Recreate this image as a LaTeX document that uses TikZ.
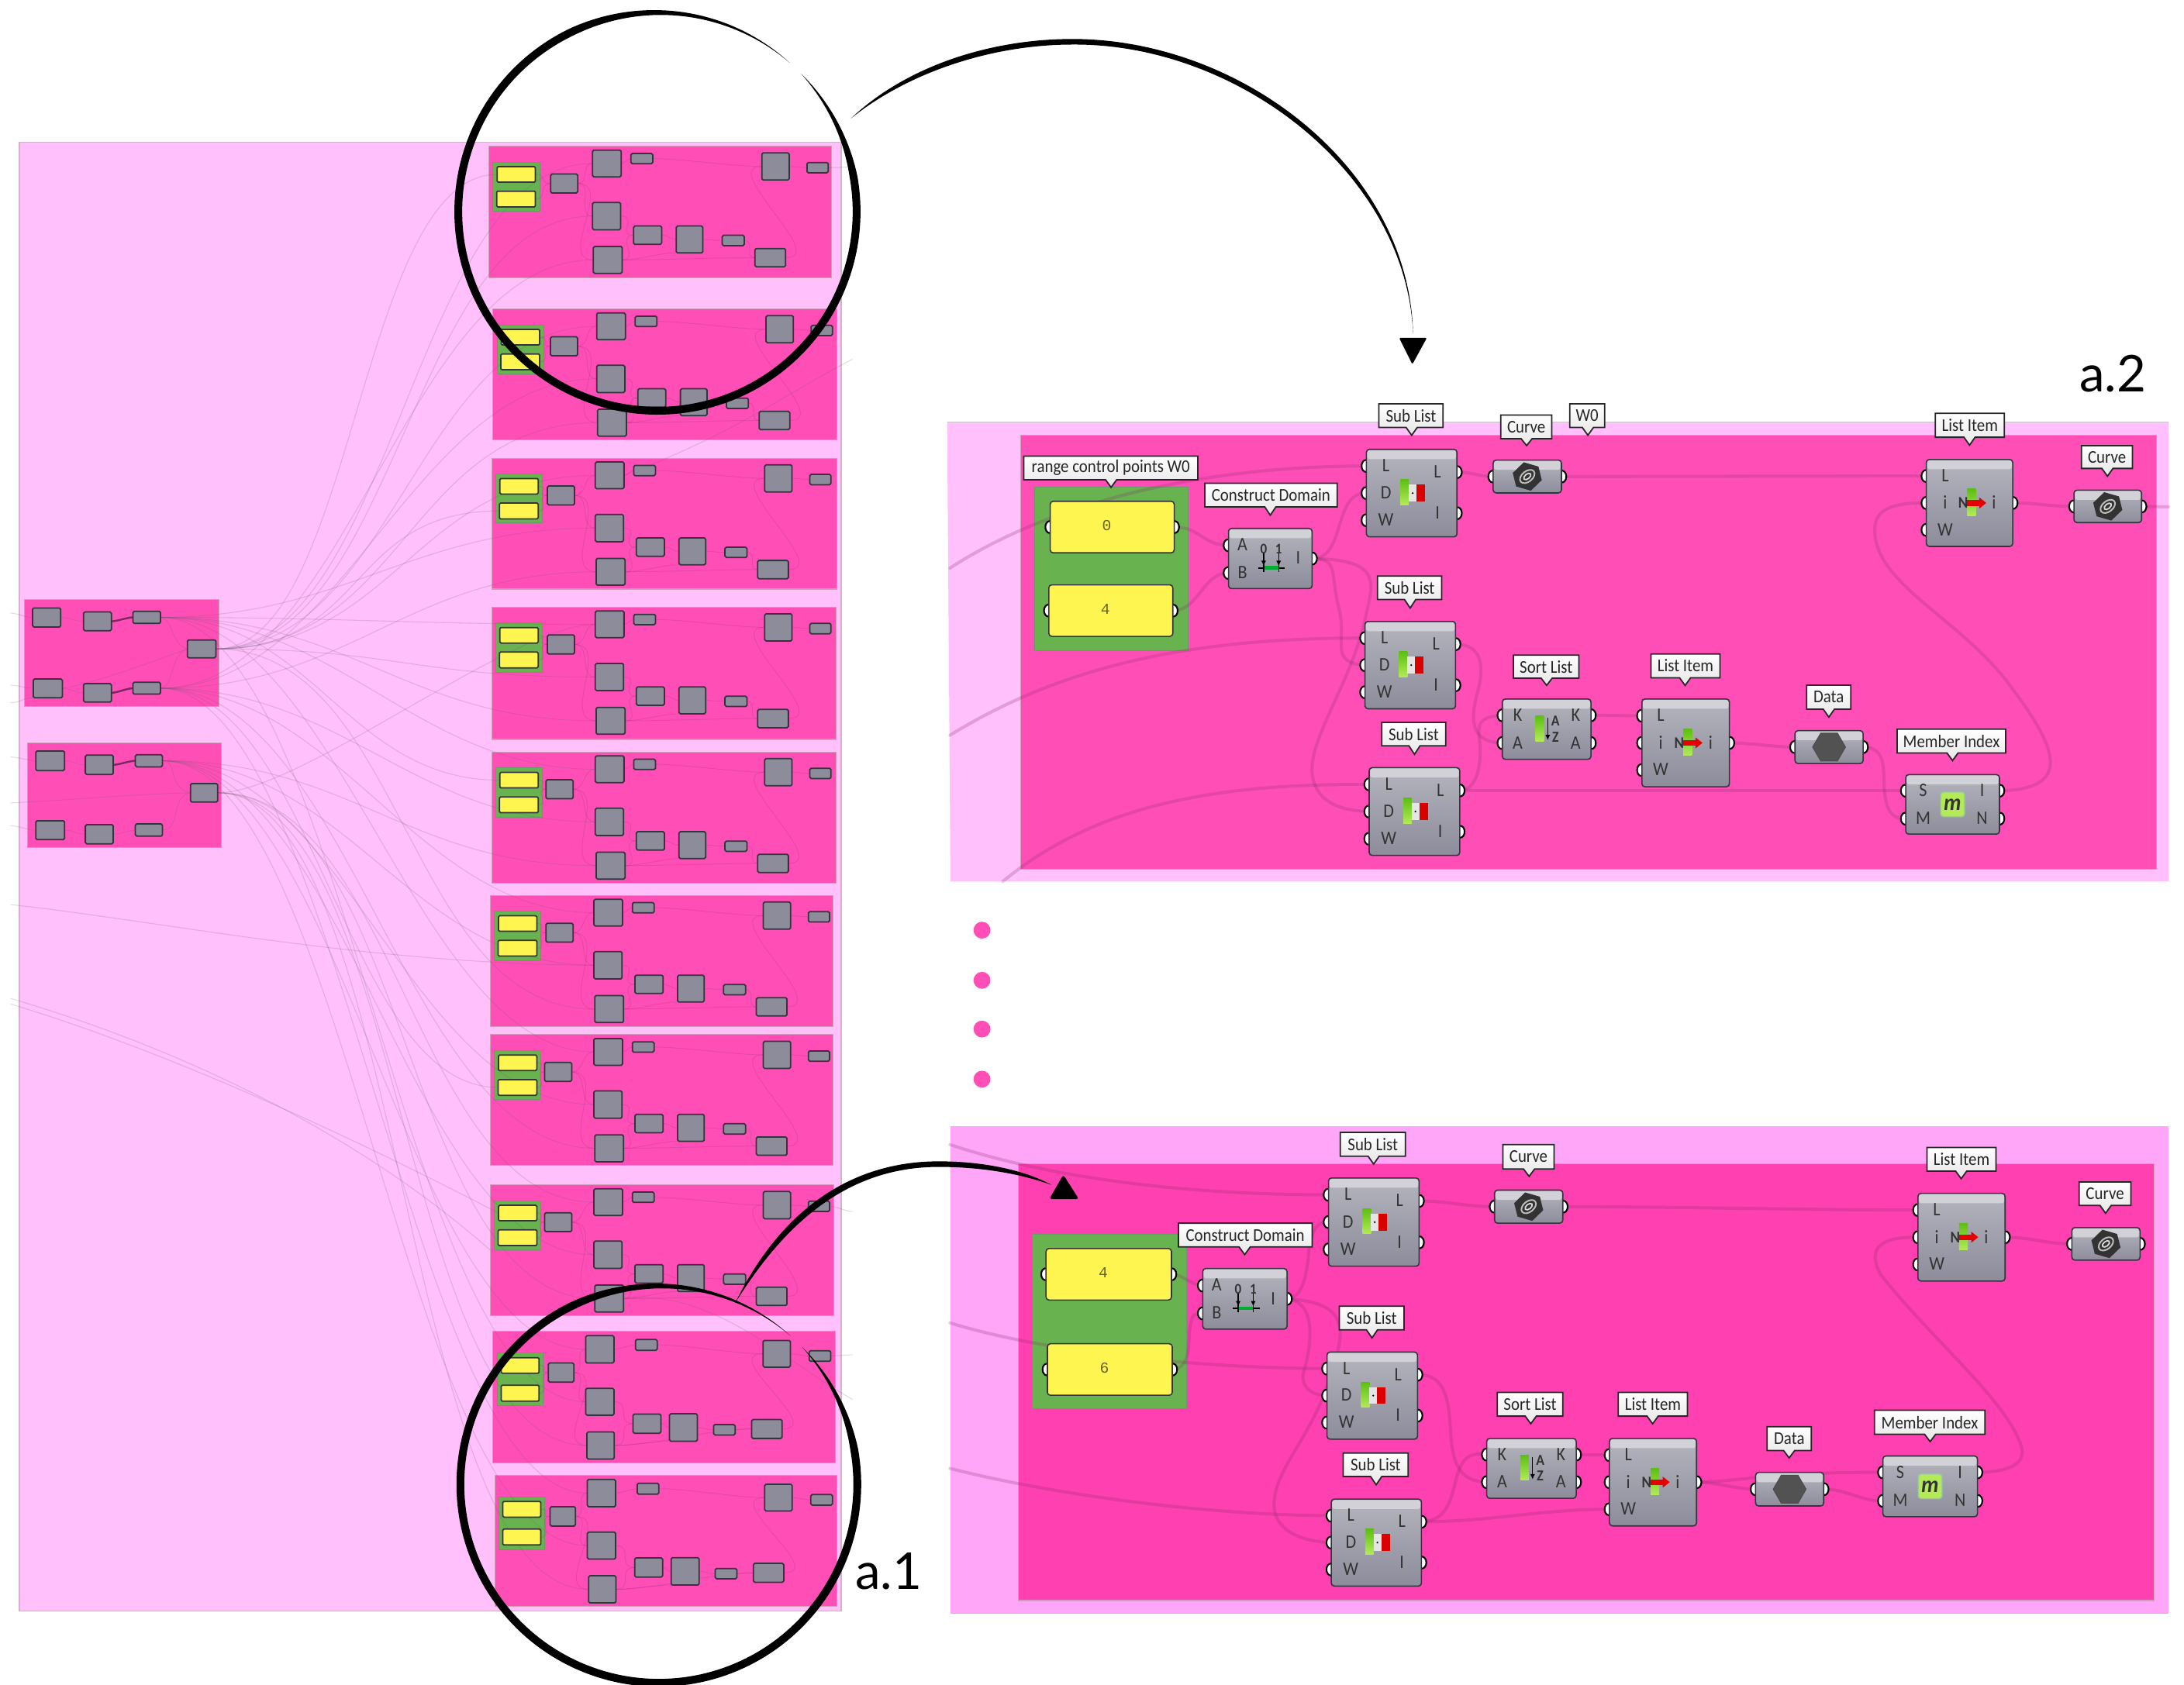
\documentclass[tikz,border=0pt]{standalone}
\usepackage{fontspec}
\setmainfont{Lato}
\newfontfamily\ghf[FakeStretch=0.9]{Carlito}
\newfontfamily\ghm{Liberation Mono}
\usetikzlibrary{calc,arrows.meta}
\pgfdeclarelayer{bg}\pgfdeclarelayer{wires}\pgfdeclarelayer{top}
\pgfsetlayers{bg,wires,main,top}
\definecolor{outerA}{HTML}{FFC0FB}
\definecolor{outerB}{HTML}{FFA6F8}
\definecolor{innerA}{HTML}{FF4FB6}
\definecolor{innerB}{HTML}{FF40B0}
\definecolor{gbox}{HTML}{68B350}
\definecolor{ybox}{HTML}{FFF550}
\definecolor{gcomp}{HTML}{8C8C9B}
\definecolor{gedge}{HTML}{34343E}
\definecolor{wirec}{HTML}{8B2B6E}
\definecolor{longc}{HTML}{6A5870}
\definecolor{bara}{HTML}{5CBF12}
\definecolor{barb}{HTML}{B4EA58}
\def\UU{0.5112pt}
\tikzset{
  ghbody/.style={draw=gedge,line width=.45pt,top color=gcomp!65!white,bottom color=gcomp,rounded corners=1.1pt,inner sep=0pt,outer sep=0pt},
  ghband/.style={fill=gcomp!40!white,rounded corners=.8pt},
  port/.style={draw=black,fill=white,line width=.6pt},
  ghlet/.style={font=\ghf\fontsize{7}{8}\selectfont,text=black!80,inner sep=0pt},
  ghlab/.style={font=\ghf\fontsize{6.6}{7}\selectfont,text=black!85,inner sep=0pt},
  labbox/.style={draw=black!85,line width=.5pt,top color=white,bottom color=black!10},
  yel/.style={draw=gedge,line width=.45pt,fill=ybox,rounded corners=1.1pt,inner sep=0pt,outer sep=0pt,font=\ghm\fontsize{5.6}{6}\selectfont,text=black!60!ybox},
  bigwire/.style={draw=wirec,opacity=.24,line width=1.15pt,line cap=round},
  miniw/.style={draw=wirec,opacity=.2,line width=.28pt},
  darkw/.style={draw=wirec!70!black,opacity=.8,line width=.7pt},
  longw/.style={draw=longc,opacity=.2,line width=.3pt},
  mcomp/.style={draw=gedge,line width=.5pt,fill=gcomp,rounded corners=.5pt,inner sep=0pt,outer sep=0pt},
  mgreen/.style={draw=green!35!black!60,line width=.2pt,fill=gbox,inner sep=0pt,outer sep=0pt},
  myel/.style={draw=gedge,line width=.5pt,fill=ybox,rounded corners=.4pt,inner sep=0pt,outer sep=0pt},
  mrect/.style={draw=magenta!55!black!45,line width=.3pt,fill=innerA,inner sep=0pt,outer sep=0pt},
  bigtext/.style={font=\fontsize{18.6}{20}\selectfont,text=black,inner sep=0pt},
  pdot/.style={circle,fill=innerA,inner sep=0pt,minimum size=6.2pt},
  gbar/.style={top color=bara,bottom color=barb},
  tinyarr/.style={black,line width=.4pt,-{Latex[length=2pt,width=1.8pt]}},
}
% generic rectangle node from corner values
\newcommand\mr[6]{\node[#6,minimum width={(#4-#2)*\UU},minimum height={(#5-#3)*\UU}] (#1) at ({(#2+#4)/2},{(#3+#5)/2}) {};}
% wire with horizontal tangents
\newcommand\gwire[4][miniw]{\draw[#1] (#2) .. controls +(#4,0) and +(-#4,0) .. (#3);}
% big component: name x1 y1 x2 y2 inlist outlist inset
\newcommand\ghc[8]{%
  \foreach \f/\l [count=\n] in {#6}{%
    \coordinate (#1-i\n) at ({#2-.3},{#3+\f*(#5-#3)});
    \draw[port] (#1-i\n) ellipse (3.2 and 4.3);}
  \foreach \f/\l [count=\n] in {#7}{%
    \coordinate (#1-o\n) at ({#4+.3},{#3+\f*(#5-#3)});
    \draw[port] (#1-o\n) ellipse (3.2 and 4.3);}
  \mr{#1}{#2}{#3}{#4}{#5}{ghbody}
  \fill[ghband] ({#2+.7},{#3+.7}) rectangle ({#4-.7},{#3+7});
  \foreach \f/\l [count=\n] in {#6}{%
    \node[ghlet] (#1-li\n) at ({#2+#8},{#3+\f*(#5-#3)-.3}) {\l};}
  \foreach \f/\l [count=\n] in {#7}{%
    \node[ghlet] (#1-lo\n) at ({#4-#8},{#3+\f*(#5-#3)-.3}) {\l};}
}
\newcommand\ghy[6]{%
  \coordinate (#1-i1) at ({#2-.3},{(#3+#5)/2});
  \coordinate (#1-o1) at ({#4+.3},{(#3+#5)/2});
  \draw[port] (#1-i1) ellipse (3.2 and 4.3);
  \draw[port] (#1-o1) ellipse (3.2 and 4.3);
  \node[yel,minimum width={(#4-#2)*\UU},minimum height={(#5-#3)*\UU}] (#1) at ({(#2+#4)/2},{(#3+#5)/2}) {\hspace*{-4pt}\raisebox{1.2pt}{#6}};
}
% callout: name x1 y1 x2 y2 tipx tipy text
\newcommand\ghl[8]{%
  \draw[labbox] (#2,#3) -- (#4,#3) -- (#4,#5) -- ({#6+4},#5) -- (#6,#7) -- ({#6-4},#5) -- (#2,#5) -- cycle;
  \node[ghlab] (#1) at ({(#2+#4)/2},{(#3+#5)/2}) {#8};
}
% icons, drawn at a node's centre
\newcommand\icsub[1]{\begin{scope}[shift={(#1.center)}]
  \fill[gbar] (-8,-9.7) rectangle (-2,8.4);
  \fill[black!10] (-2,-6) rectangle (3.5,6);
  \fill[red!85!black] (3.5,-6) rectangle (9.7,6);
  \fill[black] (.7,0) circle (.7);
\end{scope}}
\newcommand\iclist[1]{\begin{scope}[shift={(#1.center)}]
  \fill[gbar] (-1.7,-10) rectangle (4.5,9);
  \fill[red!90!black] (-1.7,-2) rectangle (7,2);
  \fill[red!90!black] (7,-4) -- (12,0) -- (7,4) -- cycle;
  \node[ghlet,font=\ghf\bfseries\fontsize{6}{7}\selectfont] (#1-nn) at (-4.6,0) {N};
\end{scope}}
\newcommand\icsort[1]{\begin{scope}[shift={(#1.center)}]
  \fill[gbar] (-8,-9.6) rectangle (-2,8.5);
  \draw[tinyarr] (.8,-8) -- (.8,8);
  \node[ghlet,font=\ghf\bfseries\fontsize{5.6}{6}\selectfont] (#1-aa) at (6.3,-6) {A};
  \node[ghlet,font=\ghf\bfseries\fontsize{5.6}{6}\selectfont] (#1-zz) at (6.3,5.5) {Z};
\end{scope}}
\newcommand\iccon[1]{\begin{scope}[shift={(#1.center)}]
  \draw[black,line width=.4pt] (-8.8,6.8) -- (10.5,6.8);
  \draw[black,line width=.4pt] (-4.8,4) -- (-4.8,9.5) (6,4) -- (6,9.5);
  \draw[green!60!black!80!cyan,line width=1.4pt] (-4.3,6.8) -- (5.6,6.8);
  \draw[tinyarr] (-4.8,-3.5) -- (-4.8,5.5);
  \draw[tinyarr] (6,-3.5) -- (6,5.5);
  \node[ghlet,font=\ghf\bfseries\fontsize{5.4}{6}\selectfont] (#1-z0) at (-4.8,-7) {0};
  \node[ghlet,font=\ghf\bfseries\fontsize{5.4}{6}\selectfont] (#1-z1) at (6,-7) {1};
\end{scope}}
\newcommand\iccurve[1]{\begin{scope}[shift={(#1.center)},rotate=14]
  \fill[black!80] (0,-10.5) -- (9.5,-5) -- (9.5,5) -- (0,10.5) -- (-9.5,5) -- (-9.5,-5) -- cycle;
  \draw[white!75!black,line width=.55pt,rotate=25] (0,0) ellipse (6 and 3.8);
  \draw[white!85!black,line width=.5pt,rotate=25] (0,0) ellipse (3 and 1.7);
\end{scope}}
\newcommand\icdata[1]{\begin{scope}[shift={(#1.center)}]
  \fill[draw=black!70,line width=.3pt,fill=black!68] (-11.8,0) -- (-6,-10) -- (6,-10) -- (11.8,0) -- (6,10) -- (-6,10) -- cycle;
\end{scope}}
\newcommand\icmem[1]{\begin{scope}[shift={(#1.center)}]
  \fill[draw=black!50!green!40,line width=.4pt,fill=barb,rounded corners=1pt] (-8.5,-8.8) rectangle (8.5,8.8);
  \node[ghlet,font=\bfseries\itshape\fontsize{8}{8}\selectfont] (#1-mm) at (0,0) {m};
\end{scope}}
% mini layouts
\newcommand\miniwires[1]{%
  \begin{pgfonlayer}{wires}
    \gwire{#1-y1.east}{#1-con.west}{9}
    \gwire{#1-y2.east}{#1-con.west}{9}
    \gwire{#1-con.east}{#1-sub1.west}{9}
    \gwire{#1-con.east}{#1-sub2.west}{12}
    \gwire{#1-con.east}{#1-sub3.west}{26}
    \gwire{#1-sub1.east}{#1-cu1.west}{3}
    \gwire{#1-cu1.east}{#1-li2.west}{20}
    \gwire{#1-sub2.east}{#1-sort.west}{13}
    \gwire{#1-sub3.east}{#1-sort.west}{13}
    \gwire{#1-sub3.east}{#1-li.south west}{12}
    \gwire{#1-sort.east}{#1-li.west}{5}
    \gwire{#1-li.east}{#1-data.west}{5}
    \gwire{#1-data.east}{#1-mem.west}{8}
    \gwire{#1-sub3.east}{#1-mem.west}{30}
    \gwire{#1-mem.east}{#1-li2.west}{32}
    \gwire{#1-li2.east}{#1-cu2.west}{4}
  \end{pgfonlayer}}
\newcommand\miniA[6]{% name x y w h conx
\begin{scope}[shift={(#2,#3)}]
  \begin{pgfonlayer}{bg}
    \mr{#1-r}{0}{0}{#4}{#5}{mrect}
    \mr{#1-g}{2.8}{11.3}{36.4}{46.6}{mgreen}
  \end{pgfonlayer}
  \mr{#1-y1}{5.9}{14.7}{33.4}{25.8}{myel}
  \mr{#1-y2}{5.6}{32.3}{33.4}{43.6}{myel}
  \mr{#1-con}{#6}{20}{#6+19.5}{33.6}{mcomp}
  \mr{#1-sub1}{74.4}{2.8}{95}{22}{mcomp}
  \mr{#1-cu1}{102}{5.2}{117.6}{12.6}{mcomp}
  \mr{#1-sub2}{74.4}{40.4}{94.6}{60}{mcomp}
  \mr{#1-sub3}{75}{72}{95.7}{91.3}{mcomp}
  \mr{#1-sort}{103.9}{57.3}{124}{70.5}{mcomp}
  \mr{#1-li}{134.5}{57.3}{153.6}{76.6}{mcomp}
  \mr{#1-data}{167.5}{64}{183.3}{71.4}{mcomp}
  \mr{#1-mem}{191}{73.5}{213}{86.6}{mcomp}
  \mr{#1-li2}{196}{4.8}{215.6}{24.3}{mcomp}
  \mr{#1-cu2}{228.4}{11.7}{243.6}{19.1}{mcomp}
  \miniwires{#1}
\end{scope}}
\newcommand\miniB[5]{% name x y w h
\begin{scope}[shift={(#2,#3)}]
  \begin{pgfonlayer}{bg}
    \mr{#1-r}{0}{0}{#4}{#5}{mrect}
    \mr{#1-g}{3}{15.5}{36}{53.6}{mgreen}
  \end{pgfonlayer}
  \mr{#1-y1}{5.8}{19}{33}{30.2}{myel}
  \mr{#1-y2}{5.8}{38.8}{33}{50.2}{myel}
  \mr{#1-con}{39.7}{22.8}{58}{36.6}{mcomp}
  \mr{#1-sub1}{66.5}{3.2}{86.8}{22.8}{mcomp}
  \mr{#1-cu1}{102.3}{5.9}{117.8}{13.7}{mcomp}
  \mr{#1-sub2}{66.5}{41}{86.8}{60.3}{mcomp}
  \mr{#1-sub3}{67.4}{72.3}{87}{91.8}{mcomp}
  \mr{#1-sort}{100.5}{59.5}{120.5}{73.3}{mcomp}
  \mr{#1-li}{126.7}{59.3}{146.7}{79}{mcomp}
  \mr{#1-data}{158.3}{67.1}{173.8}{74.5}{mcomp}
  \mr{#1-mem}{185.7}{63.4}{207.5}{77}{mcomp}
  \mr{#1-li2}{193.8}{6.6}{213.5}{25.8}{mcomp}
  \mr{#1-cu2}{226.9}{14}{242.4}{21.6}{mcomp}
  \miniwires{#1}
\end{scope}}
% brush circle with tapered ends
\newcommand\brushcircle[3]{%
  \fill[black] plot[domain=-43.8:311.6,samples=200] ({#1+(#3+0.5*bw(\x))*cos(\x)},{#2+(#3+0.5*bw(\x))*sin(\x)})
    -- plot[domain=311.6:-43.8,samples=200] ({#1+(#3-0.5*bw(\x))*cos(\x)},{#2+(#3-0.5*bw(\x))*sin(\x)}) -- cycle;}
\begin{document}
\begin{tikzpicture}[x=0.017966cm,y=-0.017966cm,
  declare function={bw(\t)=min(5.6,(\t+43.8)/6,(311.6-\t)/12);}]
\useasboundingbox (0,0) rectangle (1568,1209.6);
\begin{pgfonlayer}{bg}
  \fill[white] (0,0) rectangle (1568,1209.6);
  % left overview panel
  \fill[outerA,draw=magenta!50!black!35,line width=.4pt] (14,102) rectangle (604,1157);
  % a.2 panel
  \fill[outerA] (680,303) -- (1557,303) -- (1557,633) -- (682.4,633) -- cycle;
  \draw[black!22,line width=.3pt] (680,303) -- (1557,303);
  \fill[innerA,draw=magenta!55!black!45,line width=.3pt] (733,312.5) rectangle (1548,624);
  % lower panel
  \fill[outerB] (682.3,808.5) rectangle (1557,1158.8);
  \draw[magenta!50!black!35,line width=.3pt] (682.3,1158.8) -- (1557,1158.8);
  \fill[innerB,draw=magenta!55!black!45,line width=.3pt] (731,835.5) rectangle (1546.8,1149.4);
\end{pgfonlayer}
% ----- overview: source groups
\begin{pgfonlayer}{bg}
  \mr{LA}{17.3}{430.8}{157.4}{507.2}{mrect}
  \mr{LB}{19.8}{533.6}{159}{608.7}{mrect}
\end{pgfonlayer}
\mr{La}{23.4}{436.6}{43.6}{450.3}{mcomp}
\mr{Lb}{60}{439.5}{80}{452.9}{mcomp}
\mr{Lc}{95.4}{439}{115.2}{447.7}{mcomp}
\mr{Ld}{134.5}{459.6}{155}{472.4}{mcomp}
\mr{Le}{23.9}{487.6}{44.8}{501.1}{mcomp}
\mr{Lf}{60}{491}{80}{504.1}{mcomp}
\mr{Lg}{95.4}{490}{115.2}{498.5}{mcomp}
\mr{Ma}{25.7}{539.3}{46.3}{553.4}{mcomp}
\mr{Mb}{61.3}{542.3}{81.3}{556.2}{mcomp}
\mr{Mc}{97.2}{542}{116.6}{550.7}{mcomp}
\mr{Md}{136.8}{562.7}{156.3}{576}{mcomp}
\mr{Me}{25.7}{589.4}{46.3}{603}{mcomp}
\mr{Mf}{61.3}{592.2}{81.3}{606}{mcomp}
\mr{Mg}{97.2}{591.7}{116.6}{600.5}{mcomp}
% ----- overview: ten repeated groups
\miniA{G1}{351}{105}{246}{94.4}{44.3}
\miniA{G2}{354}{221.9}{247}{94.1}{41.2}
\miniA{G3}{353}{329}{248}{94}{40}
\miniA{G4}{353}{436}{247}{95}{40}
\miniA{G5}{353}{540}{247}{94}{39}
\miniA{G6}{352}{643}{246}{94}{40}
\miniA{G7}{352}{743}{246}{94}{39}
\miniA{G8}{352}{850.9}{246.4}{93.7}{39}
\miniB{G9}{354}{956}{245.5}{94.7}
\miniB{G10}{355.2}{1059.3}{245.5}{94.3}
% ----- a.2 panel components
\begin{pgfonlayer}{bg}
  \mr{Agreen}{743}{350}{853}{467}{mgreen}
  \mr{Bgreen}{741}{886.5}{852}{1011.7}{mgreen}
\end{pgfonlayer}
\ghy{Ay1}{754}{360}{843}{397}{0}
\ghy{Ay2}{753}{420}{842}{457}{4}
\ghc{Acon}{882}{379.5}{942}{422.7}{.28/A,.74/B}{.5/I}{10}\iccon{Acon}
\ghc{As1}{981}{322.7}{1046}{385.5}{.19/L,.5/D,.81/W}{.26/L,.73/I}{14}\icsub{As1}
\ghc{As2}{980}{446.3}{1045}{509}{.19/L,.5/D,.81/W}{.26/L,.73/I}{14}\icsub{As2}
\ghc{As3}{983}{551.3}{1048}{614.3}{.19/L,.5/D,.81/W}{.26/L,.73/I}{14}\icsub{As3}
\ghc{Acu1}{1072}{330.4}{1121}{354}{.5/{}}{.5/{}}{5}\iccurve{Acu1}
\ghc{Asort}{1078.6}{502}{1142.2}{545.3}{.27/K,.73/A}{.27/K,.73/A}{11}\icsort{Asort}
\ghc{Ali}{1178.8}{502}{1241.6}{565}{.19/L,.5/i,.81/W}{.5/i}{13.5}\iclist{Ali}
\ghc{Adata}{1288.7}{524.7}{1337.6}{548.3}{.5/{}}{.5/{}}{5}\icdata{Adata}
\ghc{Amem}{1368.2}{556.3}{1435.5}{599}{.27/S,.74/M}{.27/I,.74/N}{12.5}\icmem{Amem}
\ghc{Ali2}{1383}{330}{1445}{392.4}{.19/L,.5/i,.81/W}{.5/i}{13.5}\iclist{Ali2}
\ghc{Acu2}{1489}{352}{1537.5}{375.3}{.5/{}}{.5/{}}{5}\iccurve{Acu2}
\ghl{Alrange}{735}{327.6}{860}{344.5}{797.7}{350}{range control points W0}
\ghl{Alcon}{865}{347}{960}{364}{912}{370}{Construct Domain}
\ghl{Als1}{990}{290}{1036}{307}{1013.5}{312.6}{Sub List}
\ghl{Alcu1}{1077.5}{298}{1114}{315}{1096}{320}{Curve}
\ghl{Alw}{1127}{290}{1152}{307}{1140}{312.6}{W0}
\ghl{Als2}{989}{413.7}{1035}{430.6}{1012.4}{436.7}{Sub List}
\ghl{Als3}{992}{518.7}{1038}{535.6}{1015.5}{541.7}{Sub List}
\ghl{Alsort}{1086.5}{470.5}{1133.6}{487}{1110.4}{492.2}{Sort List}
\ghl{Alli}{1185.3}{469.6}{1234.8}{486.7}{1209.8}{492.3}{List Item}
\ghl{Aldata}{1297}{492}{1328.8}{509.3}{1313}{515}{Data}
\ghl{Almem}{1362}{523.6}{1440}{540.7}{1401.8}{546.2}{Member Index}
\ghl{Alli2}{1389.5}{296.8}{1439}{314}{1414}{319.7}{List Item}
\ghl{Alcu2}{1494.4}{320}{1531}{336.4}{1513}{342}{Curve}
% ----- lower panel components
\ghy{By1}{751}{896.6}{841}{933.6}{4}
\ghy{By2}{752}{965}{841.6}{1002}{6}
\ghc{Bcon}{863.5}{911}{924}{954.5}{.28/A,.74/B}{.5/I}{10}\iccon{Bcon}
\ghc{Bs1}{953.8}{846}{1018.8}{909.3}{.19/L,.5/D,.81/W}{.26/L,.73/I}{14}\icsub{Bs1}
\ghc{Bs2}{952.7}{971}{1017.7}{1033.5}{.19/L,.5/D,.81/W}{.26/L,.73/I}{14}\icsub{Bs2}
\ghc{Bs3}{955.8}{1076.6}{1020.5}{1139}{.19/L,.5/D,.81/W}{.26/L,.73/I}{14}\icsub{Bs3}
\ghc{Bcu1}{1073}{854.7}{1122}{878.4}{.5/{}}{.5/{}}{5}\iccurve{Bcu1}
\ghc{Bsort}{1067.4}{1033}{1131.6}{1076}{.27/K,.73/A}{.27/K,.73/A}{11}\icsort{Bsort}
\ghc{Bli}{1155.5}{1033}{1218}{1095.8}{.19/L,.5/i,.81/W}{.5/i}{13.5}\iclist{Bli}
\ghc{Bdata}{1260.4}{1057.4}{1309.3}{1081.5}{.5/{}}{.5/{}}{5}\icdata{Bdata}
\ghc{Bmem}{1351.8}{1045.6}{1419.7}{1089.2}{.27/S,.74/M}{.27/I,.74/N}{12.5}\icmem{Bmem}
\ghc{Bli2}{1377}{857}{1439.5}{920}{.19/L,.5/i,.81/W}{.5/i}{13.5}\iclist{Bli2}
\ghc{Bcu2}{1487.5}{881.6}{1536.4}{905}{.5/{}}{.5/{}}{5}\iccurve{Bcu2}
\ghl{Blcon}{846}{878.4}{942}{895.5}{893.6}{901}{Construct Domain}
\ghl{Bls1}{962.3}{813.2}{1009}{830.3}{986.2}{836}{Sub List}
\ghl{Blcu1}{1079}{822}{1115.7}{839.5}{1097.8}{844.8}{Curve}
\ghl{Bls2}{961.5}{938}{1008}{955}{985}{960.8}{Sub List}
\ghl{Bls3}{964.3}{1043.5}{1011}{1060.4}{988}{1066.3}{Sub List}
\ghl{Blsort}{1075}{1000}{1122}{1017}{1099}{1022.5}{Sort List}
\ghl{Blli}{1161.8}{1000}{1211.5}{1017}{1186.5}{1022.5}{List Item}
\ghl{Bldata}{1268.7}{1024.6}{1300.4}{1041.7}{1284.5}{1047}{Data}
\ghl{Blmem}{1345.8}{1012.8}{1425}{1030}{1385.7}{1035.3}{Member Index}
\ghl{Blli2}{1383.5}{824}{1433}{841}{1408}{846.5}{List Item}
\ghl{Blcu2}{1492.7}{848.8}{1529.8}{865.7}{1511.7}{871.3}{Curve}
% ----- wires
\coordinate (sa1) at (682,408);
\coordinate (sa2) at (682,528);
\coordinate (sa3) at (720,633);
\coordinate (sa4) at (1557,364);
\coordinate (sb1) at (682,822);
\coordinate (sb2) at (682,950);
\coordinate (sb3) at (682,1054.5);
\coordinate (f1) at (7.5,649.6);
\coordinate (f2) at (7.5,717);
\coordinate (f3) at (7.5,721);
\coordinate (f4) at (7.5,440.3);
\coordinate (f5) at (7.5,492);
\coordinate (f6) at (7.5,504.6);
\coordinate (f7) at (7.5,543.6);
\coordinate (f8) at (7.5,576.6);
\coordinate (f9) at (7.5,593);
\coordinate (r1) at (612,120);
\coordinate (r2) at (612,258);
\coordinate (r3) at (612,973);
\coordinate (r4) at (612,1005);
\coordinate (r5) at (612,870);
\begin{pgfonlayer}{wires}
  % a.2
  \draw[bigwire] (sa1) .. controls (740,370) and (840,335) .. (As1-i1);
  \draw[bigwire] (sa2) .. controls (760,480) and (850,458) .. (As2-i1);
  \draw[bigwire] (sa3) .. controls (790,575) and (880,563) .. (As3-i1);
  \gwire[bigwire]{Ay1-o1}{Acon-i1}{18}
  \gwire[bigwire]{Ay2-o1}{Acon-i2}{18}
  \gwire[bigwire]{Acon-o1}{As1-i2}{24}
  \draw[bigwire] (Acon-o1) .. controls (962,402) and (954,410) .. (962,440) .. controls (966,462) and (955,476) .. (As2-i2);
  \draw[bigwire] (Acon-o1) .. controls (995,402) and (985,420) .. (980,445) .. controls (970,490) and (940,530) .. (942,555) .. controls (944,575) and (960,582) .. (As3-i2);
  \gwire[bigwire]{As1-o1}{Acu1-i1}{10}
  \gwire[bigwire]{Acu1-o1}{Ali2-i1}{80}
  \draw[bigwire] (As2-o1) .. controls (1065,463) and (1066,480) .. (1060,500) .. controls (1055,520) and (1058,533) .. (Asort-i2);
  \draw[bigwire] (As3-o1) .. controls (1062,567) and (1064,545) .. (1062,530) .. controls (1060,515) and (1068,515) .. (Asort-i1);
  \gwire[bigwire]{As3-o1}{Amem-i1}{100}
  \gwire[bigwire]{Asort-o1}{Ali-i1}{10}
  \gwire[bigwire]{Ali-o1}{Adata-i1}{14}
  \draw[bigwire] (Adata-o1) .. controls (1358,537) and (1350,560) .. (1354,575) .. controls (1356,586) and (1362,588) .. (Amem-i2);
  \draw[bigwire] (Amem-o1) .. controls (1490,567) and (1475,535) .. (1445,495) .. controls (1410,445) and (1345,420) .. (1346,380) .. controls (1346,365) and (1360,361) .. (Ali2-i2);
  \gwire[bigwire]{Ali2-o1}{Acu2-i1}{18}
  \gwire[bigwire]{Acu2-o1}{sa4}{6}
  % lower
  \draw[bigwire] (sb1) .. controls (760,848) and (860,858) .. (Bs1-i1);
  \draw[bigwire] (sb2) .. controls (740,968) and (840,982) .. (Bs2-i1);
  \draw[bigwire] (sb3) .. controls (750,1072) and (860,1088) .. (Bs3-i1);
  \gwire[bigwire]{By1-o1}{Bcon-i1}{8}
  \draw[bigwire] (By2-o1) .. controls (857,982) and (852,960) .. (855,950) .. controls (856,944) and (858,943) .. (Bcon-i2);
  \draw[bigwire] (Bcon-o1) .. controls (938,932) and (939,905) .. (940,895) .. controls (942,885) and (945,877) .. (Bs1-i2);
  \draw[bigwire] (Bcon-o1) .. controls (945,935) and (942,965) .. (936,985) .. controls (933,996) and (942,1002) .. (Bs2-i2);
  \draw[bigwire] (Bcon-o1) .. controls (975,936) and (965,960) .. (950,1003) .. controls (935,1040) and (912,1060) .. (915,1085) .. controls (918,1100) and (935,1107) .. (Bs3-i2);
  \gwire[bigwire]{Bs1-o1}{Bcu1-i1}{20}
  \gwire[bigwire]{Bcu1-o1}{Bli2-i1}{80}
  \draw[bigwire] (Bs2-o1) .. controls (1042,987) and (1040,1015) .. (1042,1035) .. controls (1044,1056) and (1052,1064) .. (Bsort-i2);
  \draw[bigwire] (Bs3-o1) .. controls (1040,1092) and (1042,1075) .. (1046,1060) .. controls (1050,1046) and (1056,1043) .. (Bsort-i1);
  \gwire[bigwire]{Bs3-o1}{Bli-i3}{50}
  \gwire[bigwire]{Bsort-o1}{Bli-i1}{10}
  \gwire[bigwire]{Bli-o1}{Bdata-i1}{14}
  \draw[bigwire] (Bli-o1) .. controls (1250,1064) and (1270,1057) .. (Bmem-i1);
  \gwire[bigwire]{Bdata-o1}{Bmem-i2}{16}
  \draw[bigwire] (Bmem-o1) .. controls (1445,1057) and (1455,1050) .. (1451,1038) .. controls (1440,1005) and (1385,960) .. (1350,915) .. controls (1342,900) and (1345,888) .. (Bli2-i2);
  \gwire[bigwire]{Bli2-o1}{Bcu2-i1}{18}
  % overview source wiring
  \gwire[longw]{f4}{La.west}{5}
  \gwire[longw]{f5}{Le.west}{5}
  \gwire[longw]{f6}{Le.south west}{8}
  \gwire[longw]{f7}{Ma.west}{5}
  \gwire[longw]{f9}{Me.west}{5}
  \draw[longw] (f8) .. controls (60,574) and (100,570) .. (Md.west);
  \gwire[longw]{La.east}{Lb.west}{6}
  \gwire[longw]{Le.east}{Lf.west}{6}
  \draw[longw] (Le.east) .. controls (70,490) and (110,475) .. (Ld.west);
  \gwire[longw]{Ma.east}{Mb.west}{6}
  \gwire[longw]{Me.east}{Mf.west}{6}
  \gwire[darkw]{Lb.east}{Lc.west}{4}
  \gwire[darkw]{Lf.east}{Lg.west}{4}
  \gwire[darkw]{Mb.east}{Mc.west}{4}
  \gwire[longw]{Mf.east}{Mg.west}{4}
  \draw[longw] (Lc.east) .. controls (125,445) and (122,462) .. (Ld.west);
  \draw[longw] (Lg.east) .. controls (125,494) and (122,470) .. (Ld.west);
  \draw[longw] (Mc.east) .. controls (128,546) and (120,566) .. (Md.west);
  \draw[longw] (Mg.east) .. controls (130,596) and (122,572) .. (Md.west);
  % overview long wires: one source for each Sub List of each group
  \foreach \g/\a/\b/\c in {
    G1/Ld/Ld/Lg, G2/Ld/Lg/Ld, G3/Ld/Lc/Lg, G4/Lc/Ld/Lc, G5/Lc/Lg/Mc,
    G6/Lg/Mc/Ld, G7/Lc/Mc/Lg, G8/Md/Mc/Md, G9/Mc/Lc/Md, G10/Lg/Mc/Md}{
    \gwire[longw]{\a.east}{\g-sub1.west}{128}
    \gwire[longw]{\b.east}{\g-sub2.west}{132}
    \gwire[longw]{\c.east}{\g-sub3.west}{136}
  }
  \gwire[longw]{Ld.east}{G1-y1.west}{100}
  \gwire[longw]{Ld.east}{G3-y2.west}{110}
  \gwire[longw]{Lc.east}{G5-y1.west}{110}
  \gwire[longw]{Lg.east}{G7-y2.west}{110}
  \gwire[longw]{Md.east}{G4-sub1.west}{60}
  \draw[longw] (f1) .. controls (120,662) and (260,692) .. (G6-sub2.west);
  \draw[longw] (f2) .. controls (120,750) and (250,808) .. (G8-r.west);
  \draw[longw] (f3) .. controls (120,755) and (250,815) .. (G8-y1.west);
  % stubs at the right
  \gwire[longw]{G1-cu2.east}{r1}{5}
  \draw[longw] (r2) .. controls (560,285) and (530,310) .. (G3-sub1.east);
  \gwire[longw]{G9-cu2.east}{r3}{5}
  \gwire[longw]{G8-cu2.east}{r5}{5}
  \draw[longw] (r4) .. controls (560,975) and (510,925) .. (G8-sub3.east);
\end{pgfonlayer}
% ----- dots, labels
\foreach \yy/\n in {668/1,704/2,739/3,775/4}{\node[pdot] (dot\n) at (705,\yy) {};}
\begin{pgfonlayer}{top}
  \node[bigtext] (a1) at (638,1128.5) {a.1};
  \node[bigtext] (a2) at (1517,268.5) {a.2};
  \brushcircle{472}{152}{143}
  \brushcircle{473}{1066}{142.5}
  % curved brush arrows
  \coordinate (arrAs) at (611,85);
  \coordinate (arrAe) at (1014.5,240);
  \coordinate (arrBs) at (527.8,935.8);
  \coordinate (arrBe) at (755,851);
  \fill[black] (arrAs) .. controls (650,48) and (710,28) .. (770,28) .. controls (890,28) and (1012,120) .. (arrAe)
     .. controls (1010,124) and (888,31) .. (770,32) .. controls (712,32) and (652,52) .. (arrAs) -- cycle;
  \fill[black,rounded corners=.4pt] (1004.5,242.6) -- (1024.4,242.6) -- (1014,261.6) -- cycle;
  \fill[black] (arrBs) .. controls (560,870) and (610,834) .. (674,834) .. controls (705,834) and (735,840) .. (arrBe)
     .. controls (733,843) and (705,838) .. (674,838) .. controls (612,838) and (566,874) .. (arrBs) -- cycle;
  \fill[black,rounded corners=1pt] (763.4,843.6) -- (774.6,861.2) -- (753.3,861.2) -- cycle;
\end{pgfonlayer}
\end{tikzpicture}
\end{document}
